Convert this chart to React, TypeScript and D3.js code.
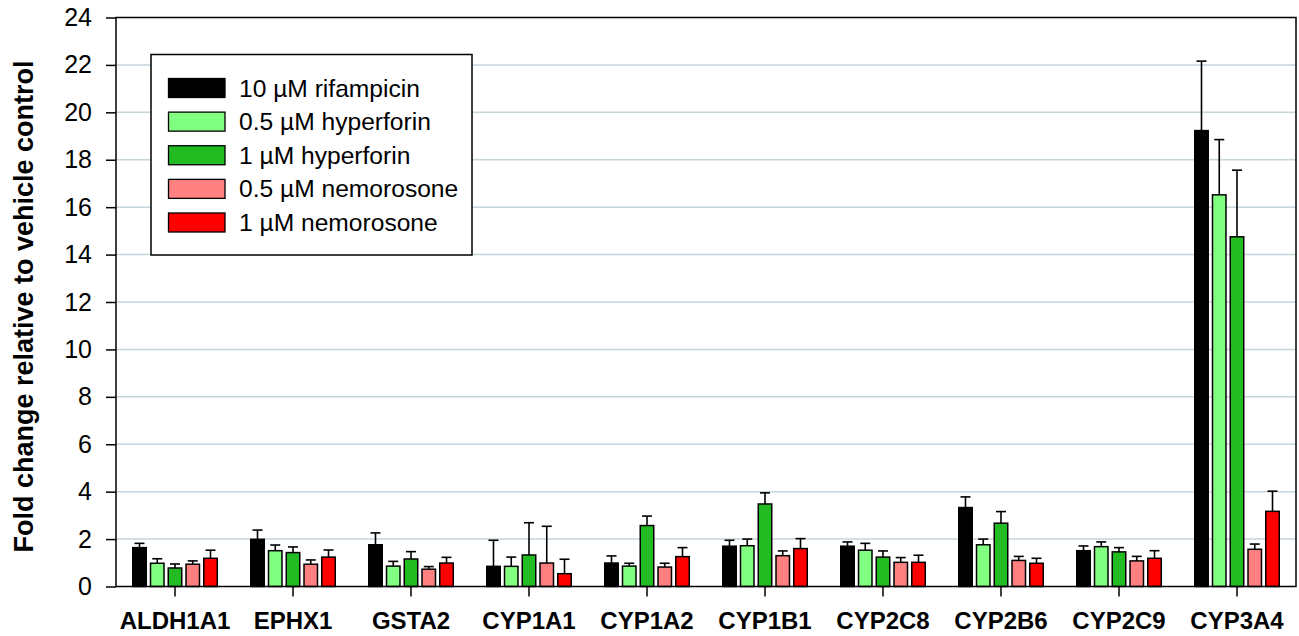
import React, { useEffect, useRef } from 'react';
import * as d3 from 'd3';

const genes = ['ALDH1A1', 'EPHX1', 'GSTA2', 'CYP1A1', 'CYP1A2', 'CYP1B1', 'CYP2C8', 'CYP2B6', 'CYP2C9', 'CYP3A4'];

const seriesNames = ['10 µM rifampicin', '0.5 µM hyperforin', '1 µM hyperforin', '0.5 µM nemorosone', '1 µM nemorosone'];
const seriesColors = ['#000000', '#80ff80', '#22bb22', '#ff8080', '#ff0000'];

// mean fold change per gene
const rifampicin = [1.64, 1.99, 1.76, 0.85, 0.99, 1.70, 1.70, 3.33, 1.51, 19.23];
const hyperforin05 = [0.98, 1.51, 0.86, 0.85, 0.86, 1.72, 1.53, 1.76, 1.68, 16.52];
const hyperforin1 = [0.78, 1.43, 1.16, 1.33, 2.57, 3.48, 1.24, 2.67, 1.46, 14.75];
const nemorosone05 = [0.94, 0.94, 0.73, 0.99, 0.82, 1.30, 1.02, 1.10, 1.08, 1.57];
const nemorosone1 = [1.19, 1.24, 0.99, 0.54, 1.26, 1.60, 1.02, 0.98, 1.19, 3.17];

// upper error (SD)
const rifampicinErr = [0.18, 0.39, 0.50, 1.10, 0.30, 0.25, 0.18, 0.45, 0.20, 2.93];
const hyperforin05Err = [0.19, 0.24, 0.20, 0.39, 0.12, 0.28, 0.29, 0.24, 0.20, 2.33];
const hyperforin1Err = [0.17, 0.24, 0.31, 1.36, 0.40, 0.47, 0.26, 0.49, 0.18, 2.81];
const nemorosone05Err = [0.14, 0.18, 0.11, 1.55, 0.16, 0.20, 0.20, 0.17, 0.19, 0.22];
const nemorosone1Err = [0.34, 0.30, 0.24, 0.61, 0.38, 0.42, 0.30, 0.21, 0.32, 0.85];

const yTicks = [0, 2, 4, 6, 8, 10, 12, 14, 16, 18, 20, 22, 24];

const FONT = 'Arial, "Liberation Sans", sans-serif';

export default function App() {
  const svgRef = useRef<SVGSVGElement>(null);

  useEffect(() => {
    const svg = d3.select(svgRef.current);
    svg.selectAll('*').remove();

    const values = [rifampicin, hyperforin05, hyperforin1, nemorosone05, nemorosone1];
    const errors = [rifampicinErr, hyperforin05Err, hyperforin1Err, nemorosone05Err, nemorosone1Err];

    const left = 116, right = 1296, top = 17.5, bottom = 586.5;

    const x0 = d3.scaleBand().domain(genes).range([left, right]).padding(0);
    const x1 = d3.scaleBand<number>()
      .domain(d3.range(seriesNames.length))
      .range([-42.25, 42.25])
      .paddingInner(0.24)
      .paddingOuter(0);
    const y = d3.scaleLinear().domain([0, 24]).range([bottom, top]);

    // grid
    svg.append('g')
      .selectAll('line')
      .data(yTicks.filter(t => t > 0 && t < 24))
      .enter().append('line')
      .attr('x1', left).attr('x2', right)
      .attr('y1', d => y(d)).attr('y2', d => y(d))
      .attr('stroke', '#c6d5dc')
      .attr('stroke-width', 1.5);

    // bars
    const groups = svg.append('g')
      .selectAll('g')
      .data(genes)
      .enter().append('g')
      .attr('transform', d => `translate(${x0(d)! + x0.bandwidth() / 2},0)`);

    const cells = groups.selectAll('g')
      .data((g, gi) => values.map((vals, si) => ({ si, v: vals[gi], e: errors[si][gi] })))
      .enter().append('g');

    // error bars (upper only)
    cells.append('line')
      .attr('x1', d => x1(d.si)! + x1.bandwidth() / 2)
      .attr('x2', d => x1(d.si)! + x1.bandwidth() / 2)
      .attr('y1', d => y(d.v))
      .attr('y2', d => y(d.v + d.e))
      .attr('stroke', '#000')
      .attr('stroke-width', 1.6);
    cells.append('line')
      .attr('x1', d => x1(d.si)! + x1.bandwidth() / 2 - 5)
      .attr('x2', d => x1(d.si)! + x1.bandwidth() / 2 + 5)
      .attr('y1', d => y(d.v + d.e))
      .attr('y2', d => y(d.v + d.e))
      .attr('stroke', '#000')
      .attr('stroke-width', 1.6);

    cells.append('rect')
      .attr('x', d => x1(d.si)!)
      .attr('width', x1.bandwidth())
      .attr('y', d => y(d.v))
      .attr('height', d => y(0) - y(d.v))
      .attr('fill', d => seriesColors[d.si])
      .attr('stroke', '#000')
      .attr('stroke-width', 1.5);

    // frame
    svg.append('rect')
      .attr('x', left).attr('y', top)
      .attr('width', right - left).attr('height', bottom - top)
      .attr('fill', 'none')
      .attr('stroke', '#000')
      .attr('stroke-width', 1.5);

    // y axis
    const yAxis = svg.append('g')
      .attr('transform', `translate(${left},0)`)
      .call(d3.axisLeft(y).tickValues(yTicks).tickSize(10).tickPadding(14).tickFormat(d3.format('d')));
    yAxis.select('.domain').remove();
    yAxis.selectAll('line').attr('stroke', '#000').attr('stroke-width', 1.5);
    yAxis.selectAll('text')
      .attr('font-family', FONT)
      .attr('font-size', 25)
      .attr('fill', '#000');

    // x axis
    const xAxis = svg.append('g')
      .attr('transform', `translate(0,${bottom})`)
      .call(d3.axisBottom(x0).tickSize(10).tickPadding(15));
    xAxis.select('.domain').remove();
    xAxis.selectAll('line').attr('stroke', '#000').attr('stroke-width', 1.5);
    xAxis.selectAll('text')
      .attr('font-family', FONT)
      .attr('font-size', 24)
      .attr('font-weight', 'bold')
      .attr('fill', '#000');

    // y title
    svg.append('text')
      .attr('transform', `translate(33,${(555 + 58) / 2}) rotate(-90)`)
      .attr('text-anchor', 'middle')
      .attr('font-family', FONT)
      .attr('font-size', 27)
      .attr('font-weight', 'bold')
      .text('Fold change relative to vehicle control');

    // legend
    const legend = svg.append('g');
    legend.append('rect')
      .attr('x', 151).attr('y', 54.5)
      .attr('width', 321).attr('height', 200.5)
      .attr('fill', '#fff')
      .attr('stroke', '#000')
      .attr('stroke-width', 1.5);
    const rowY = d3.scalePoint<number>().domain(d3.range(seriesNames.length)).range([88, 222.5]);
    const item = legend.selectAll('g.item')
      .data(seriesNames)
      .enter().append('g')
      .attr('class', 'item')
      .attr('transform', (d, i) => `translate(0,${rowY(i)})`);
    item.append('rect')
      .attr('x', 168.5).attr('y', -9.5)
      .attr('width', 56.5).attr('height', 19)
      .attr('fill', (d, i) => seriesColors[i])
      .attr('stroke', '#000')
      .attr('stroke-width', 1.3);
    item.append('text')
      .attr('x', 239)
      .attr('y', 8.5)
      .attr('font-family', FONT)
      .attr('font-size', 24.6)
      .text(d => d);
  }, []);

  return (
    <svg
      ref={svgRef}
      width={1299}
      height={636}
      style={{ position: 'absolute', left: 0, top: 0, background: '#fff' }}
    />
  );
}
